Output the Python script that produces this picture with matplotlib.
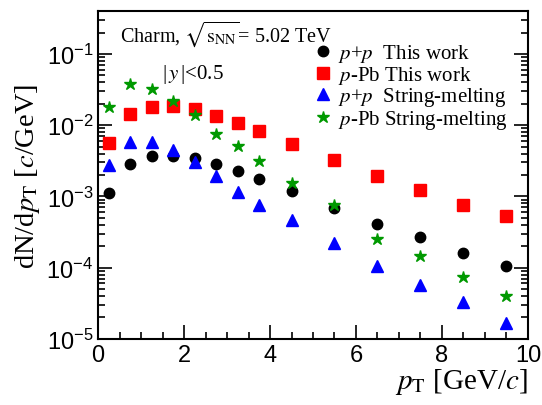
import matplotlib
matplotlib.use("Agg")
import matplotlib.pyplot as plt
from matplotlib.ticker import MultipleLocator, LogLocator, NullFormatter

plt.rcParams['mathtext.fontset'] = 'stix'
plt.rcParams['font.family'] = ['Liberation Serif', 'DejaVu Serif']

pt = [0.25, 0.75, 1.25, 1.75, 2.25, 2.75, 3.25, 3.75, 4.5, 5.5, 6.5, 7.5, 8.5, 9.5]
pp_this = [1.1e-3, 2.85e-3, 3.65e-3, 3.75e-3, 3.47e-3, 2.9e-3, 2.26e-3, 1.75e-3,
           1.19e-3, 6.95e-4, 4.15e-4, 2.67e-4, 1.6e-4, 1.05e-4]
ppb_this = [5.65e-3, 1.42e-2, 1.83e-2, 1.88e-2, 1.69e-2, 1.35e-2, 1.06e-2, 8.3e-3,
            5.46e-3, 3.26e-3, 1.95e-3, 1.24e-3, 7.65e-4, 5.25e-4]
pp_sm = [2.72e-3, 5.75e-3, 5.75e-3, 4.44e-3, 3.02e-3, 1.92e-3, 1.15e-3, 7.48e-4,
         4.6e-4, 2.2e-4, 1.06e-4, 5.7e-5, 3.26e-5, 1.66e-5]
ppb_sm = [1.8e-2, 3.77e-2, 3.24e-2, 2.22e-2, 1.39e-2, 7.43e-3, 5.05e-3, 3.11e-3,
          1.52e-3, 7.5e-4, 2.56e-4, 1.45e-4, 7.5e-5, 3.99e-5]

labels = ["$p$+$p$  This work", "$p$-Pb This work",
          "$p$+$p$  String-melting", "$p$-Pb String-melting"]

fig = plt.figure(figsize=(5.42, 4.06), dpi=100)
ax = fig.add_axes([0.181, 0.163, 0.793, 0.807])

ax.plot(pt, pp_this, 'o', color='black', ms=7.5, ls='none', label=labels[0])
ax.plot(pt, ppb_this, 's', color='#ff0000', ms=8, ls='none', label=labels[1])
ax.plot(pt, pp_sm, '^', color='#0000ff', ms=8, ls='none', label=labels[2])
ax.plot(pt, ppb_sm, '*', color='#009900', ms=9, ls='none', label=labels[3])

ax.set_yscale('log')
ax.set_xlim(0, 10)
ax.set_ylim(1e-5, 0.4)
ax.xaxis.set_major_locator(MultipleLocator(2))
ax.xaxis.set_minor_locator(MultipleLocator(0.5))
ax.yaxis.set_major_locator(LogLocator(base=10, numticks=10))
ax.yaxis.set_minor_locator(LogLocator(base=10, subs=range(2, 10), numticks=100))
ax.yaxis.set_minor_formatter(NullFormatter())

ax.tick_params(which='both', direction='in', right=True, top=False,
               labelsize=17, width=1.2)
ax.tick_params(which='major', length=10)
ax.tick_params(which='minor', length=5)
for lab in ax.get_xticklabels() + ax.get_yticklabels():
    lab.set_fontfamily('Liberation Sans')
for s in ax.spines.values():
    s.set_linewidth(1.5)

ax.set_ylabel(r"dN/d$p_{\rm T}$ [$c$/GeV]", fontsize=20.5, labelpad=3)
ax.set_xlabel(r"$p_{\rm T}$ [GeV/$c$]", fontsize=21, loc='right', labelpad=0)

ax.text(0.05, 0.933, r"Charm, $\sqrt{\mathrm{s}_{\rm NN}}$= 5.02 TeV", transform=ax.transAxes,
        fontsize=14.5, va='center', ha='left')
ax.text(0.148, 0.81, r"|$\,y\,$|<0.5", transform=ax.transAxes,
        fontsize=15, va='center', ha='left')

leg = ax.legend(loc='upper left', bbox_to_anchor=(0.5, 0.905), frameon=False,
                fontsize=15, handletextpad=0.2, labelspacing=-0.02,
                handlelength=1.0, borderaxespad=0, borderpad=0)

fig.savefig("out.png", dpi=100)
